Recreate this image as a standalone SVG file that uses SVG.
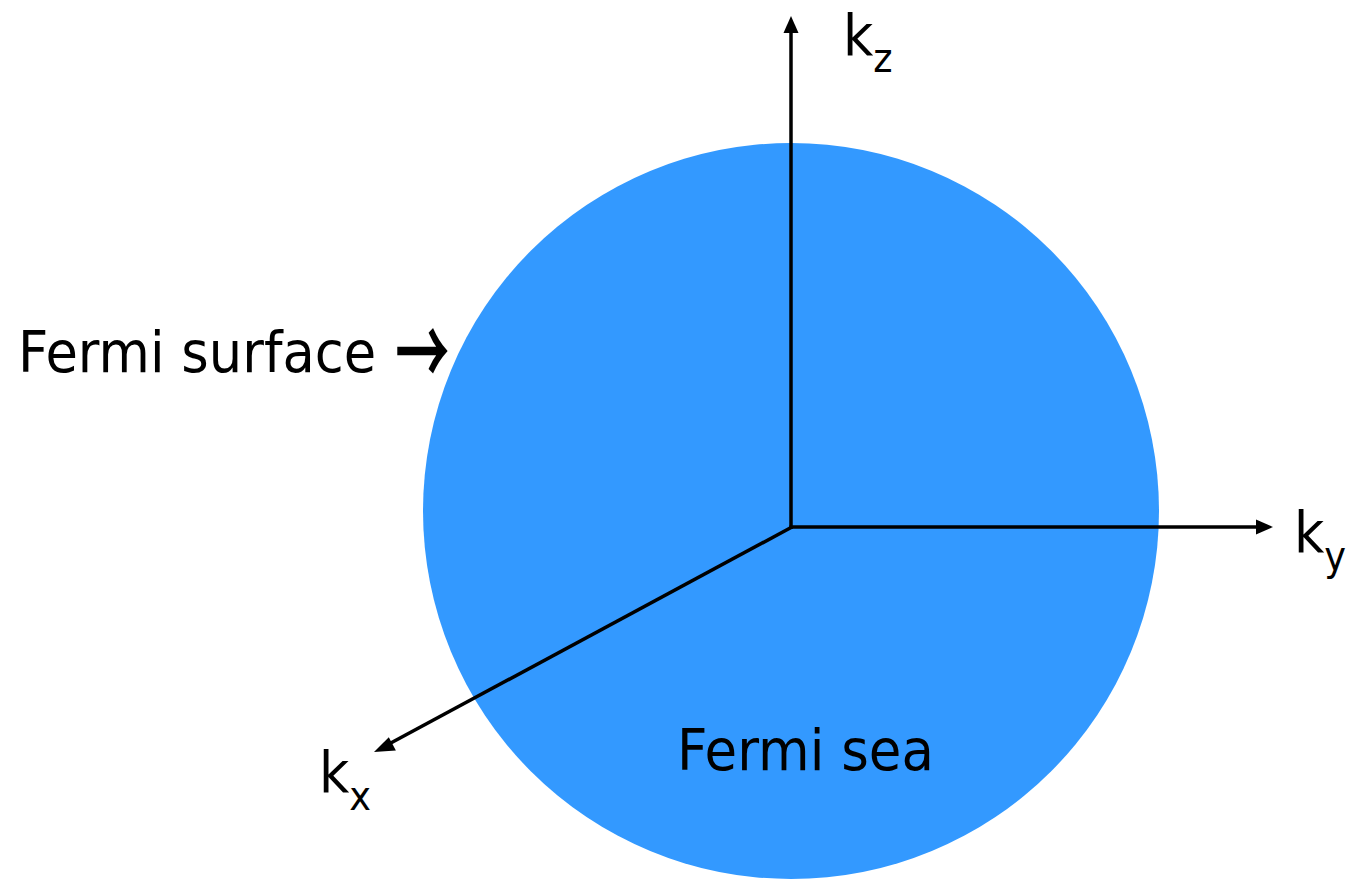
<svg xmlns="http://www.w3.org/2000/svg" width="1349" height="879" viewBox="0 0 1349 879">
<style>
.t{font-family:"DejaVu Sans",Verdana,sans-serif;font-size:57px;fill:#000}
.s{font-size:40px}
.ax{stroke:#000;stroke-width:3.5;fill:none}
.hd{fill:#000}
.ar{font-family:"Noto Sans CJK JP","DejaVu Sans",sans-serif;font-weight:400;font-size:52px;fill:#000;stroke:#000;stroke-width:1.6}
</style>
<rect width="1349" height="879" fill="#fff"/>
<g id="sphere"><circle cx="791" cy="511" r="368" fill="#3399ff"/></g>
<g id="axes">
<line class="ax" x1="791" y1="529" x2="791" y2="30"/>
<polygon class="hd" points="791,16 783.5,33 798.5,33"/>
<line class="ax" x1="789.5" y1="527" x2="1258" y2="527"/>
<polygon class="hd" points="1273,527 1256,519.5 1256,534.5"/>
<line class="ax" x1="792" y1="527" x2="388" y2="744.5"/>
<polygon class="hd" points="374,752 388.8,737.2 395.9,750.4"/>
</g>
<g id="labels">
<text class="t" transform="translate(843,55) scale(0.92,1)">k<tspan class="s" dy="17">z</tspan></text>
<text class="t" transform="translate(1294,552) scale(0.92,1)">k<tspan class="s" dy="18">y</tspan></text>
<text class="t" transform="translate(319,792) scale(0.92,1)">k<tspan class="s" dy="18">x</tspan></text>
<text class="t" transform="translate(18,372) scale(0.925,1)">Fermi surface</text>
<text class="ar" transform="translate(396,384) scale(1,1.7)">→</text>
<text class="t" transform="translate(677,770) scale(0.93,1)">Fermi sea</text>
</g>
</svg>
